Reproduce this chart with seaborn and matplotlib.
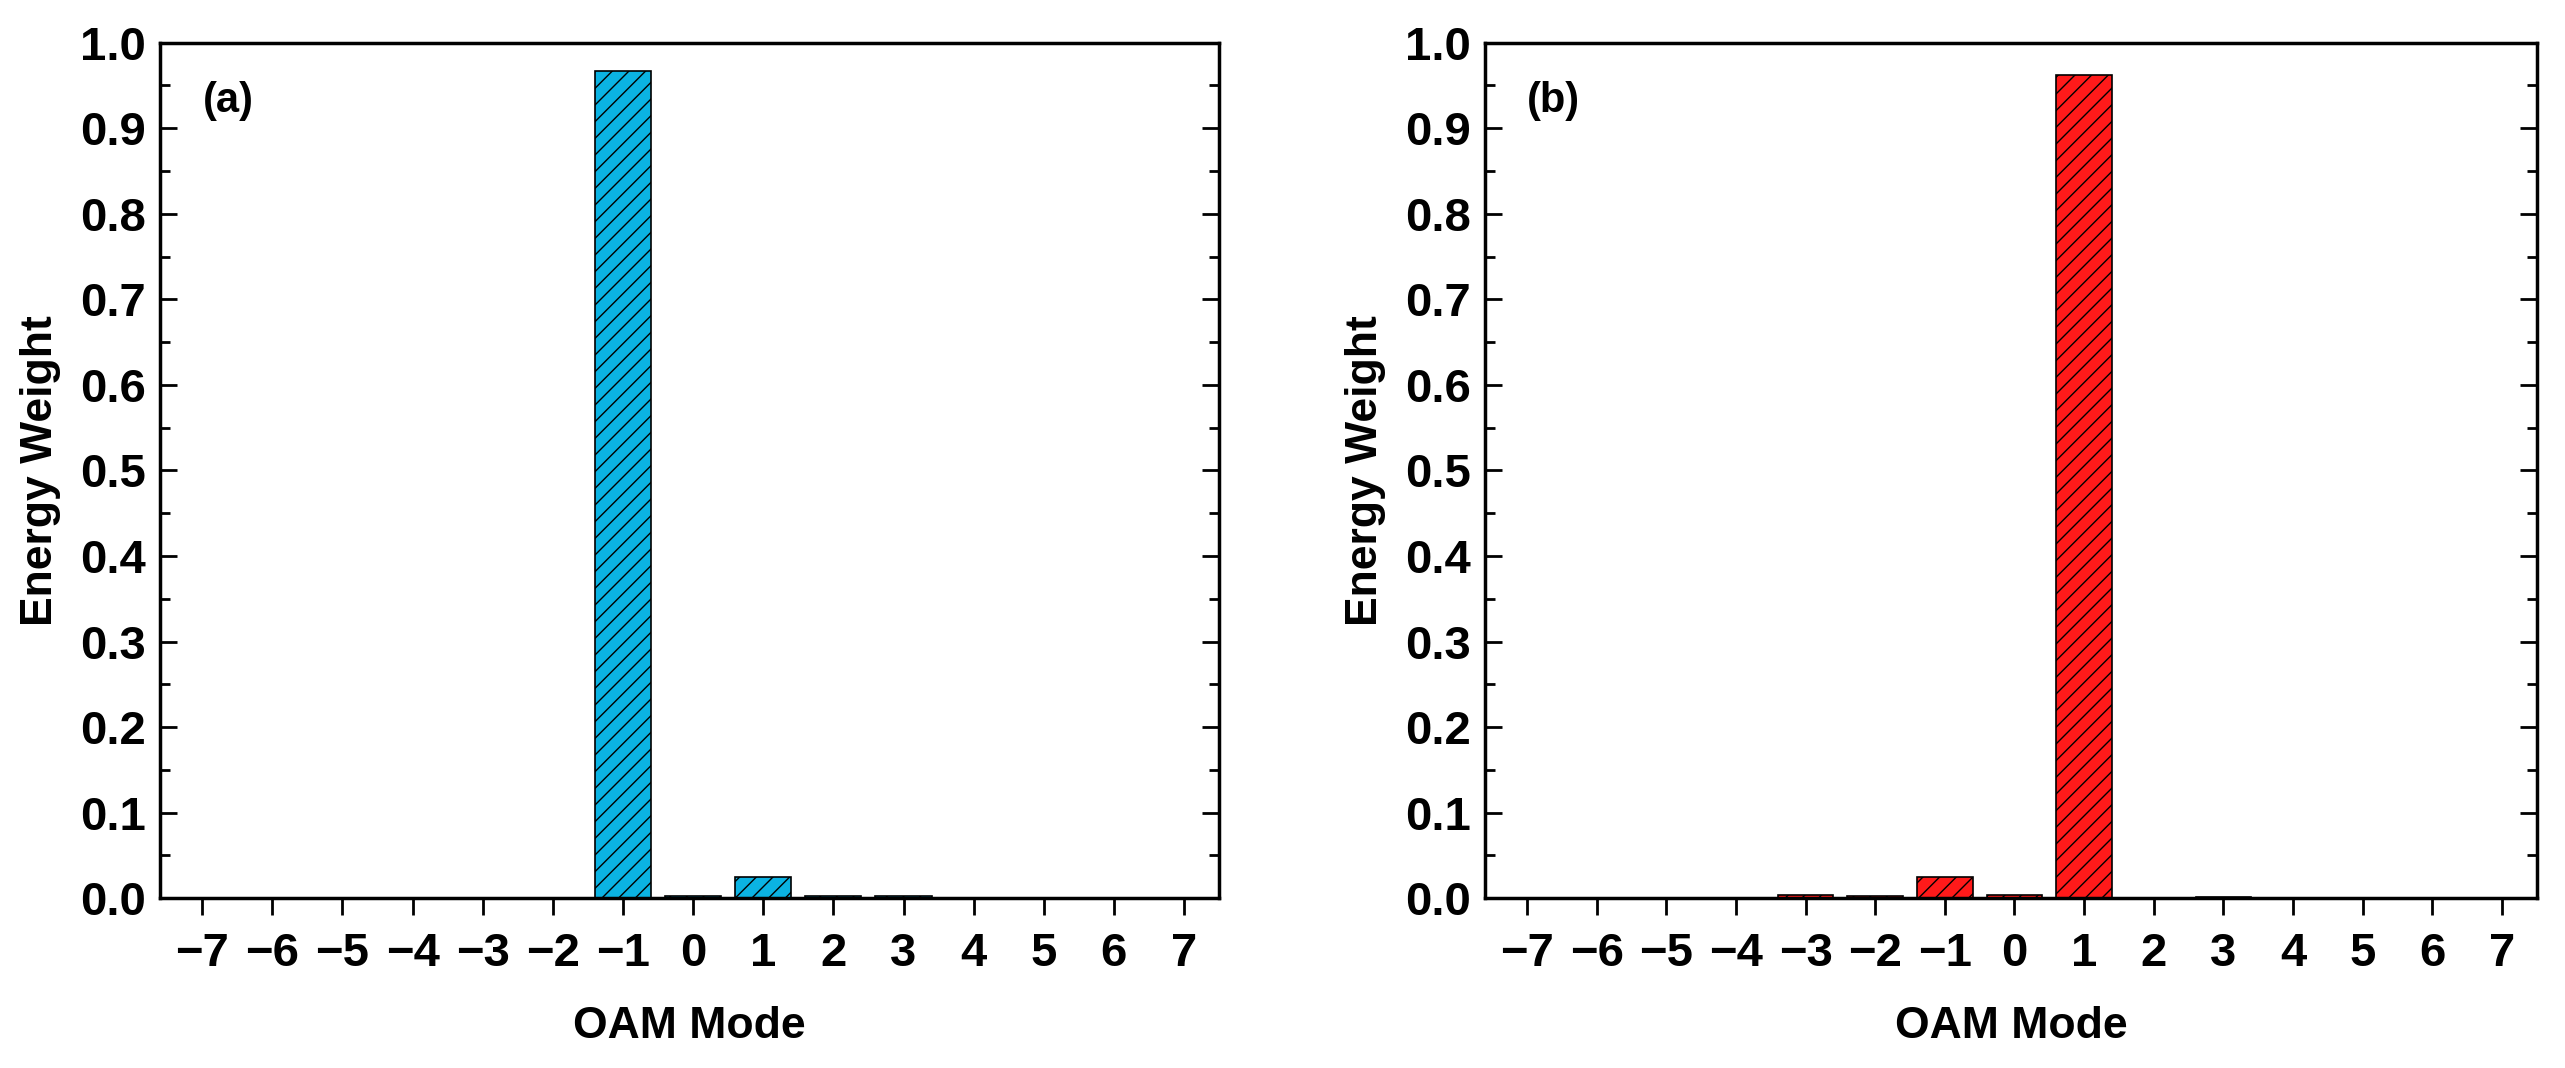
import matplotlib
matplotlib.use('Agg')
import matplotlib.pyplot as plt
import numpy as np
import pandas as pd
import seaborn as sns
from matplotlib.ticker import MultipleLocator, FormatStrFormatter

# OAM modes and energy weights
modes = list(range(-7, 8))
mode_labels = [str(m).replace('-', '\u2212') for m in modes]
weights_a = [0, 0, 0, 0, 0, 0, 0.967, 0.003, 0.025, 0.002, 0.002, 0, 0, 0, 0]
weights_b = [0, 0, 0, 0, 0.004, 0.002, 0.025, 0.004, 0.962, 0, 0.001, 0, 0, 0, 0]
panel_labels = ['(a)', '(b)']
bar_colors = ['#0BB3E3', '#FF1A1A']

sns.set_theme(style='ticks')
plt.rcParams['font.family'] = ['Liberation Sans Narrow', 'Liberation Sans', 'DejaVu Sans']
plt.rcParams['font.weight'] = 'bold'
plt.rcParams['hatch.linewidth'] = 1.0
plt.rcParams['hatch.color'] = '#1a1a1a'
for key in ['text.color', 'axes.labelcolor', 'xtick.color', 'ytick.color', 'axes.edgecolor']:
    plt.rcParams[key] = 'black'

fig = plt.figure(figsize=(25.65, 10.68), dpi=100)
ax_a = fig.add_axes([0.0624, 0.159, 0.4129, 0.801])
ax_b = fig.add_axes([0.579, 0.159, 0.410, 0.801])

for ax, w, lab, col in zip([ax_a, ax_b], [weights_a, weights_b], panel_labels, bar_colors):
    df = pd.DataFrame({'mode': mode_labels, 'weight': w})
    sns.barplot(data=df, x='mode', y='weight', order=mode_labels, ax=ax,
                color=col, saturation=1, width=0.8, edgecolor='black',
                linewidth=1.2, hatch='//')
    ax.set_xlim(-0.6, 14.5)
    ax.set_ylim(0, 1.0)
    ax.yaxis.set_major_locator(MultipleLocator(0.1))
    ax.yaxis.set_minor_locator(MultipleLocator(0.05))
    ax.yaxis.set_major_formatter(FormatStrFormatter('%.1f'))
    ax.tick_params(axis='y', which='major', direction='in', length=12, width=2,
                   right=True, labelsize=34, pad=10)
    ax.tick_params(axis='y', which='minor', direction='in', length=7, width=2, right=True)
    ax.tick_params(axis='x', direction='out', length=12, width=2, labelsize=34, pad=12)
    for s in ax.spines.values():
        s.set_visible(True)
        s.set_linewidth(2.5)
    ax.set_xlabel('OAM Mode', fontsize=32, fontweight='bold', labelpad=22)
    ax.set_ylabel('Energy Weight', fontsize=32, fontweight='bold', labelpad=14)
    for t in ax.get_xticklabels() + ax.get_yticklabels():
        t.set_fontweight('bold')
    ax.text(0.04, 0.955, lab, transform=ax.transAxes, fontsize=30,
            fontweight='bold', va='top', ha='left')

fig.savefig('out.png', dpi=100)
